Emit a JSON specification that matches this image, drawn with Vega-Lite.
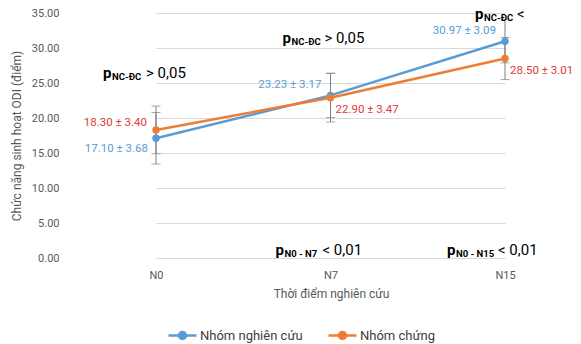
{
  "$schema": "https://vega.github.io/schema/vega-lite/v6.json",
  "width": 513,
  "height": 245,
  "autosize": {"type": "none"},
  "padding": {"left": 68, "top": 13, "right": 0, "bottom": 86},
  "background": "white",
  "config": {"font": "Roboto", "view": {"stroke": null},
    "axisY": {"tickCount": 8, "format": ".2f", "domain": false, "ticks": false, "labelOverlap": false,
      "gridColor": "#d9d9d9", "labelColor": "#595959", "labelFontSize": 11, "labelPadding": 9,
      "titleColor": "#595959", "titleFontSize": 12, "titleFontWeight": "normal", "titlePadding": 8}},
  "datasets": {
    "stats": [
      {"time": "N0", "group": "Nhóm nghiên cứu", "mean": 17.10, "sd": 3.68, "label": "17.10 ± 3.68"},
      {"time": "N7", "group": "Nhóm nghiên cứu", "mean": 23.23, "sd": 3.17, "label": "23.23 ± 3.17"},
      {"time": "N15", "group": "Nhóm nghiên cứu", "mean": 30.97, "sd": 3.09, "label": "30.97 ± 3.09"},
      {"time": "N0", "group": "Nhóm chứng", "mean": 18.30, "sd": 3.40, "label": "18.30 ± 3.40"},
      {"time": "N7", "group": "Nhóm chứng", "mean": 22.90, "sd": 3.47, "label": "22.90 ± 3.47"},
      {"time": "N15", "group": "Nhóm chứng", "mean": 28.50, "sd": 3.01, "label": "28.50 ± 3.01"}
    ],
    "notes": [
      {"id": "a1", "time": "N0", "y": 26.5, "sub": "NC-ĐC", "rest": "> 0,05"},
      {"id": "a2", "time": "N7", "y": 31.5, "sub": "NC-ĐC", "rest": "> 0,05"},
      {"id": "a3", "time": "N15", "y": 34.8, "sub": "NC-ĐC", "rest": "<"},
      {"id": "a4", "time": "N7", "y": 1.1, "sub": "N0 - N7", "rest": "< 0,01"},
      {"id": "a5", "time": "N15", "y": 1.1, "sub": "N0 - N15", "rest": "< 0,01"}
    ]
  },
  "encoding": {
    "x": {
      "field": "time", "type": "ordinal", "sort": ["N0", "N7", "N15"],
      "scale": {"type": "point", "range": [88, 437], "padding": 0},
      "axis": {"title": "Thời điểm nghiên cứu", "labelAngle": 0, "domain": false, "ticks": false, "grid": false,
        "labelColor": "#595959", "labelFontSize": 11, "labelPadding": 11,
        "titleColor": "#595959", "titleFontSize": 12, "titleFontWeight": "normal", "titlePadding": 8, "titleX": 263}
    }
  },
  "layer": [
    {
      "data": {"name": "stats"},
      "mark": {"type": "errorbar", "ticks": {"size": 9, "color": "#808080"}, "rule": {"color": "#808080", "strokeWidth": 1}},
      "encoding": {
        "y": {"field": "mean", "type": "quantitative", "title": "Chức năng sinh hoạt ODI (điểm)", "scale": {"domain": [0, 35], "nice": false},
          "axis": {"values": [0, 5, 10, 15, 20, 25, 30, 35], "tickCount": 8, "format": ".2f"}},
        "yError": {"field": "sd"}
      }
    },
    {
      "data": {"name": "stats"},
      "mark": {"type": "line", "strokeWidth": 2.5},
      "encoding": {
        "y": {"field": "mean", "type": "quantitative", "title": "Chức năng sinh hoạt ODI (điểm)",
          "scale": {"domain": [0, 35], "nice": false},
          "axis": {"values": [0, 5, 10, 15, 20, 25, 30, 35], "tickCount": 8, "format": ".2f"}},
        "color": {"field": "group", "type": "nominal",
          "scale": {"domain": ["Nhóm nghiên cứu", "Nhóm chứng"], "range": ["#5B9BD5", "#ED7D31"]},
          "legend": {"orient": "none", "legendX": 99, "legendY": 307, "direction": "horizontal", "columns": 2, "title": null,
            "symbolType": "M-1,0L1,0M0.25,0A0.25,0.25,0,1,1,-0.25,0A0.25,0.25,0,1,1,0.25,0Z",
            "symbolSize": 784, "symbolStrokeWidth": 2.5, "labelFontSize": 13, "labelColor": "#404040",
            "columnPadding": 20, "labelOffset": 2,
            "encode": {"symbols": {"update": {"fill": {"scale": "color", "field": "value"}, "stroke": {"scale": "color", "field": "value"}}}}}},
        "order": {"field": "group", "sort": "descending"}
      }
    },
    {
      "data": {"name": "stats"},
      "mark": {"type": "point", "filled": true, "size": 55, "opacity": 1},
      "encoding": {
        "y": {"field": "mean", "type": "quantitative", "title": "Chức năng sinh hoạt ODI (điểm)", "scale": {"domain": [0, 35], "nice": false}},
        "color": {"field": "group", "type": "nominal", "scale": {"domain": ["Nhóm nghiên cứu", "Nhóm chứng"], "range": ["#5B9BD5", "#ED7D31"]}}
      }
    },
    {
      "data": {"name": "stats"},
      "transform": [{"filter": "datum.group == 'Nhóm nghiên cứu' && datum.time == 'N0'"}],
      "mark": {"type": "text", "align": "right", "baseline": "middle", "dx": -8, "dy": 11, "fontSize": 11.5, "color": "#5B9BD5"},
      "encoding": {"y": {"field": "mean", "type": "quantitative", "title": "Chức năng sinh hoạt ODI (điểm)", "scale": {"domain": [0, 35], "nice": false}}, "text": {"field": "label"}}
    },
    {
      "data": {"name": "stats"},
      "transform": [{"filter": "datum.group == 'Nhóm nghiên cứu' && datum.time != 'N0'"}],
      "mark": {"type": "text", "align": "right", "baseline": "middle", "dx": -9, "dy": -10, "fontSize": 11.5, "color": "#5B9BD5"},
      "encoding": {"y": {"field": "mean", "type": "quantitative", "title": "Chức năng sinh hoạt ODI (điểm)", "scale": {"domain": [0, 35], "nice": false}}, "text": {"field": "label"}}
    },
    {
      "data": {"name": "stats"},
      "transform": [{"filter": "datum.group == 'Nhóm chứng' && datum.time == 'N0'"}],
      "mark": {"type": "text", "align": "right", "baseline": "middle", "dx": -9, "dy": -7, "fontSize": 11.5, "color": "#E03A3A"},
      "encoding": {"y": {"field": "mean", "type": "quantitative", "title": "Chức năng sinh hoạt ODI (điểm)", "scale": {"domain": [0, 35], "nice": false}}, "text": {"field": "label"}}
    },
    {
      "data": {"name": "stats"},
      "transform": [{"filter": "datum.group == 'Nhóm chứng' && datum.time != 'N0'"}],
      "mark": {"type": "text", "align": "left", "baseline": "middle", "dx": 5, "dy": 12, "fontSize": 11.5, "color": "#E03A3A"},
      "encoding": {"y": {"field": "mean", "type": "quantitative", "title": "Chức năng sinh hoạt ODI (điểm)", "scale": {"domain": [0, 35], "nice": false}}, "text": {"field": "label"}}
    },
    {
      "data": {"name": "notes"},
      "transform": [{"filter": "datum.id == 'a1'"}],
      "encoding": {"y": {"field": "y", "type": "quantitative", "title": "Chức năng sinh hoạt ODI (điểm)", "scale": {"domain": [0, 35], "nice": false}}},
      "layer": [
        {"mark": {"type": "text", "text": "p", "align": "left", "baseline": "middle", "dx": -53, "fontSize": 15, "fontWeight": "bold", "color": "#000000"}},
        {"mark": {"type": "text", "align": "left", "baseline": "middle", "dx": -44, "dy": 4, "fontSize": 9.5, "fontWeight": "bold", "color": "#000000"}, "encoding": {"text": {"field": "sub"}}},
        {"mark": {"type": "text", "align": "left", "baseline": "middle", "dx": -10, "fontSize": 15, "color": "#000000"}, "encoding": {"text": {"field": "rest"}}}
      ]
    },
    {
      "data": {"name": "notes"},
      "transform": [{"filter": "datum.id == 'a2'"}],
      "encoding": {"y": {"field": "y", "type": "quantitative", "title": "Chức năng sinh hoạt ODI (điểm)", "scale": {"domain": [0, 35], "nice": false}}},
      "layer": [
        {"mark": {"type": "text", "text": "p", "align": "left", "baseline": "middle", "dx": -48, "fontSize": 15, "fontWeight": "bold", "color": "#000000"}},
        {"mark": {"type": "text", "align": "left", "baseline": "middle", "dx": -39, "dy": 4, "fontSize": 9.5, "fontWeight": "bold", "color": "#000000"}, "encoding": {"text": {"field": "sub"}}},
        {"mark": {"type": "text", "align": "left", "baseline": "middle", "dx": -6, "fontSize": 15, "color": "#000000"}, "encoding": {"text": {"field": "rest"}}}
      ]
    },
    {
      "data": {"name": "notes"},
      "transform": [{"filter": "datum.id == 'a3'"}],
      "encoding": {"y": {"field": "y", "type": "quantitative", "title": "Chức năng sinh hoạt ODI (điểm)", "scale": {"domain": [0, 35], "nice": false}}},
      "layer": [
        {"mark": {"type": "text", "text": "p", "align": "left", "baseline": "middle", "dx": -30, "fontSize": 15, "fontWeight": "bold", "color": "#000000"}},
        {"mark": {"type": "text", "align": "left", "baseline": "middle", "dx": -21, "dy": 4, "fontSize": 9.5, "fontWeight": "bold", "color": "#000000"}, "encoding": {"text": {"field": "sub"}}},
        {"mark": {"type": "text", "align": "left", "baseline": "middle", "dx": 12, "fontSize": 15, "color": "#000000"}, "encoding": {"text": {"field": "rest"}}}
      ]
    },
    {
      "data": {"name": "notes"},
      "transform": [{"filter": "datum.id == 'a4'"}],
      "encoding": {"y": {"field": "y", "type": "quantitative", "title": "Chức năng sinh hoạt ODI (điểm)", "scale": {"domain": [0, 35], "nice": false}}},
      "layer": [
        {"mark": {"type": "text", "text": "p", "align": "left", "baseline": "middle", "dx": -55, "fontSize": 15, "fontWeight": "bold", "color": "#000000"}},
        {"mark": {"type": "text", "align": "left", "baseline": "middle", "dx": -46, "dy": 4, "fontSize": 9.5, "fontWeight": "bold", "color": "#000000"}, "encoding": {"text": {"field": "sub"}}},
        {"mark": {"type": "text", "align": "left", "baseline": "middle", "dx": -8, "fontSize": 15, "color": "#000000"}, "encoding": {"text": {"field": "rest"}}}
      ]
    },
    {
      "data": {"name": "notes"},
      "transform": [{"filter": "datum.id == 'a5'"}],
      "encoding": {"y": {"field": "y", "type": "quantitative", "title": "Chức năng sinh hoạt ODI (điểm)", "scale": {"domain": [0, 35], "nice": false}}},
      "layer": [
        {"mark": {"type": "text", "text": "p", "align": "left", "baseline": "middle", "dx": -58, "fontSize": 15, "fontWeight": "bold", "color": "#000000"}},
        {"mark": {"type": "text", "align": "left", "baseline": "middle", "dx": -49, "dy": 4, "fontSize": 9.5, "fontWeight": "bold", "color": "#000000"}, "encoding": {"text": {"field": "sub"}}},
        {"mark": {"type": "text", "align": "left", "baseline": "middle", "dx": -7, "fontSize": 15, "color": "#000000"}, "encoding": {"text": {"field": "rest"}}}
      ]
    }
  ]
}
